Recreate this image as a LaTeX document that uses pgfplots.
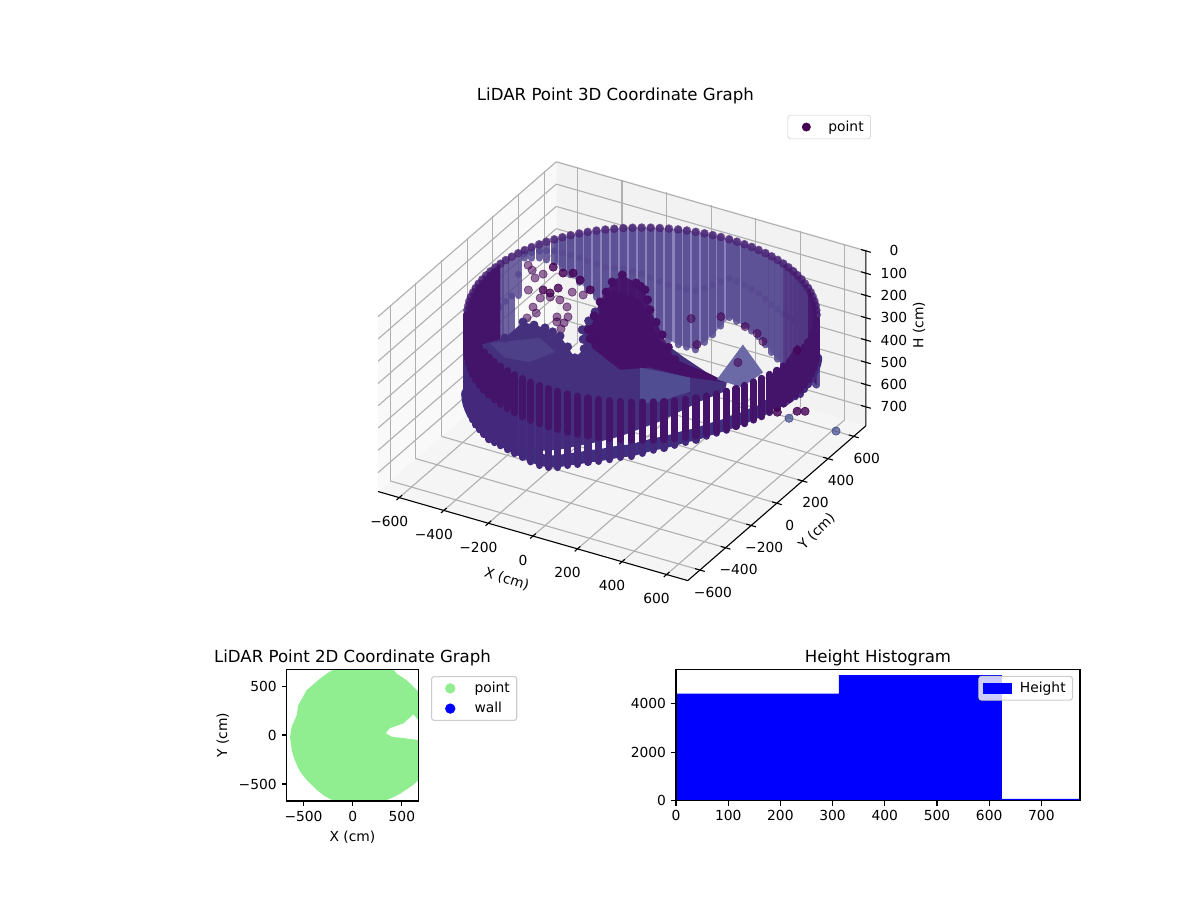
\documentclass[border=0pt]{standalone}
\usepackage{fontspec}
\setmainfont{DejaVu Sans}
\usepackage{pgfplots}
\usepackage{pgfplotstable}
\pgfplotsset{compat=1.18}
\definecolor{gridc}{HTML}{B0B0B0}
\definecolor{legc}{HTML}{CCCCCC}
\definecolor{lgreen}{HTML}{90EE90}
\definecolor{vird}{HTML}{440154}
\definecolor{backc}{HTML}{574A91}
\definecolor{backl}{HTML}{8A82B8}
\definecolor{rimc}{HTML}{44136A}
\definecolor{floorc}{HTML}{45307E}
\definecolor{blobc}{HTML}{450F67}
\definecolor{barc}{HTML}{43287B}
\definecolor{basec}{HTML}{3F2F80}
\definecolor{patchc}{HTML}{514D93}
\definecolor{patchl}{HTML}{4D3F88}
\definecolor{patchd}{HTML}{6B6AA6}
\definecolor{strayb}{HTML}{3F4A8A}
\pgfplotstableread{
x y t m e
656 379 140 297 157
637 409 140 308 168
617 439 140 317 177
595 467 140 323 183
572 494 140 326 186
548 520 140 328 188
522 544 140 328 188
495 567 140 340 200
467 589 140 354 214
437 609 140 358 218
407 628 140 361 221
376 645 140 364 224
344 660 140 367 227
311 674 140 363 223
277 686 140 356 216
243 696 140 346 206
208 704 140 335 195
173 711 140 329 189
138 715 140 323 183
103 718 140 319 179
67 719 140 316 176
31 718 140 340 200
-4 715 140 364 224
-39 711 140 385 245
-74 704 140 405 265
-109 696 140 402 262
-143 686 140 399 259
-177 674 140 390 250
-210 660 140 380 240
-242 645 140 364 224
-273 628 140 347 207
-303 609 140 335 195
-333 589 140 323 183
-361 567 140 316 176
-388 544 140 309 169
-414 520 140 290 150
-438 494 140 270 130
-461 467 140 250 110
-483 439 140 229 89
-503 409 140 210 70
-522 379 140 191 51
-539 348 140 181 41
-554 316 140 171 31
-568 283 140 165 25
-580 249 140 158 18
-590 215 140 235 95
-598 180 140 316 176
-605 145 140 325 185
-609 110 140 333 193
-612 75 140 348 208
-613 39 140 361 221
-612 3 140 363 223
-609 -32 140 365 225
-605 -67 140 361 221
-598 -102 140 357 217
-590 -137 140 353 213
-580 -171 140 348 208
-568 -205 140 344 204
-554 -238 140 339 199
-539 -270 140 335 195
-522 -301 140 330 190
}\backwall
\pgfplotstableread{
x y t m e c
-522 -301 140 330 190 493
-499 -337 140 329 189 491
-475 -372 140 328 188 488
-448 -405 140 326 187 486
-419 -437 140 326 186 485
-388 -466 140 326 186 484
-355 -494 140 325 185 483
-321 -519 140 324 185 482
-285 -543 140 325 185 483
-248 -564 140 321 181 475
-210 -582 140 318 178 468
-170 -598 140 317 177 467
-130 -612 140 316 177 466
-88 -623 140 316 177 466
-46 -632 140 318 178 468
-4 -637 140 319 179 471
39 -640 140 316 177 466
80 -641 140 310 171 454
124 -639 140 300 160 433
166 -634 140 293 153 419
208 -626 140 284 145 402
250 -616 140 278 139 390
291 -603 140 272 132 376
330 -588 140 265 125 363
369 -570 140 262 122 357
407 -550 140 254 115 342
443 -527 140 248 108 330
478 -503 140 245 105 323
511 -476 140 240 100 314
543 -447 140 236 96 305
572 -416 140 235 95 303
600 -383 140 230 90 294
625 -349 140 228 88 290
649 -313 140 227 87 288
670 -276 140 224 84 282
688 -238 140 225 85 283
704 -198 140 223 83 280
718 -158 140 225 85 283
729 -116 140 220 80 274
738 -74 140 218 78 270
743 -32 140 219 79 271
746 11 140 224 84 282
747 53 140 229 89 291
745 96 140 235 95 303
740 138 140 235 95 304
732 180 140 236 96 305
722 222 140 236 96 306
709 263 140 237 97 308
694 302 140 238 98 309
676 341 140 239 99 312
}\frontwall
\pgfplotstableread{
x y z
-648 394 300
-615 368 300
-563 363 300
-575 321 300
-551 227 300
-480 196 300
-450 222 300
-406 221 300
-469 121 300
-435 87 300
-355 188 300
-350 101 300
-313 123 300
-331 67 300
-303 75 300
-290 28 300
-447 36 300
-395 298 300
-347 300 300
109 350 300
202 421 300
229 186 300
437 145 300
589 342 300
322 401 300
389 378 300
440 335 300
}\strayA
\pgfplotstableread{
x y z
-556 430 300
-500 409 300
-466 428 300
-501 256 300
-466 249 300
-458 298 300
-415 395 300
-343 348 300
507 547 700
480 532 700
417 487 700
}\strayB
\pgfplotstableread{
x y z
480 469 700
688 474 700
}\strayC
\pgfplotstableread{
x y z
-195 75 300
-263 286 300
-300 444 300
-293 511 300
-215 484 300
-158 455 300
-64 330 300
74 185 300
213 42 300
-229 180 300
-281 365 300
-187 470 300
-111 393 300
5 258 300
143 113 300
-154 18 300
}\blobedge
\pgfplotstableread{
x y z
-444 -142 300
-445 1 300
-348 4 300
-266 -21 300
-131 -140 300
-135 -61 300
-215 63 300
-241 209 300
-396 2 300
-307 -8 300
-198 -80 300
-175 1 300
-228 136 300
}\flooredge
\begin{document}
\begin{tikzpicture}
\path (0,0) rectangle (12in,9in);
\begin{axis}[
  at={(6.22in,6.162in)}, anchor=origin,
  x={(0.00223in,-0.000647in)}, y={(0.00128in,0.001115in)}, z={(0in,0.002235in)},
  z dir=reverse,
  xmin=-695,xmax=695,ymin=-695,ymax=695,zmin=-5,zmax=785,
  clip=false, set layers,
  axis lines=box,
  axis line style={draw=none},
  grid=major, grid style={color=gridc,line width=.8pt},
  xtick={-600,-400,-200,0,200,400,600},
  ytick={-600,-400,-200,0,200,400,600},
  ztick={0,100,200,300,400,500,600,700},
  xticklabels={−600,−400,−200,0,200,400,600},
  yticklabels={−600,−400,−200,0,200,400,600},
  zticklabels={0,100,200,300,400,500,600,700},
  tick style={draw=none},
  major tick length=0pt,
  zticklabel pos=upper,
  xticklabel style={anchor=center,xshift=-.1in,yshift=-.24in},
  yticklabel style={anchor=center,xshift=.13in,yshift=-.22in},
  zticklabel style={anchor=center,xshift=.28in},
  title={LiDAR Point 3D Coordinate Graph},
  title style={font=\fontsize{12}{14}\selectfont,at={(axis cs:-713,1188,-5)},anchor=center},
  xlabel={X (cm)},
  xlabel style={at={(axis cs:79,-1036,785)},anchor=center,rotate=-18},
  ylabel={Y (cm)},
  ylabel style={at={(axis cs:941,-115,785)},anchor=center,rotate=-45},
  zlabel={H (cm)},
  zlabel style={at={(axis cs:825,883,390)},anchor=center,rotate=0},
  legend style={at={(axis cs:95,1452,-5)},anchor=center,draw=legc,rounded corners=2pt,fill=white,font=\normalsize,cells={anchor=west}},
]
% panes
\addplot3[forget plot,on layer=axis background,fill=black!2.5,draw=none] coordinates {(-695,-695,-5)(-695,695,-5)(-695,695,785)(-695,-695,785)};
\addplot3[forget plot,on layer=axis background,fill=black!5,draw=none] coordinates {(-695,695,-5)(695,695,-5)(695,695,785)(-695,695,785)};
\addplot3[forget plot,on layer=axis background,fill=black!3.75,draw=none] coordinates {(-695,-695,785)(695,-695,785)(695,695,785)(-695,695,785)};
% axis edges and tick marks
\addplot3[forget plot,black,line width=.8pt] coordinates {(-695,-695,785)(695,-695,785)(695,695,785)(695,695,-5)};
\addplot3[forget plot,draw=none,mark=none,error bars/.cd,y dir=both,y fixed=22,error mark=none,error bar style={black,line width=.8pt}] coordinates {(-600,-695,785)(-400,-695,785)(-200,-695,785)(0,-695,785)(200,-695,785)(400,-695,785)(600,-695,785)};
\addplot3[forget plot,draw=none,mark=none,error bars/.cd,x dir=both,x fixed=22,error mark=none,error bar style={black,line width=.8pt}] coordinates {(695,-600,785)(695,-400,785)(695,-200,785)(695,0,785)(695,200,785)(695,400,785)(695,600,785)};
\addplot3[forget plot,draw=none,mark=none,error bars/.cd,x dir=both,x fixed=22,error mark=none,error bar style={black,line width=.8pt}] coordinates {(695,695,0)(695,695,100)(695,695,200)(695,695,300)(695,695,400)(695,695,500)(695,695,600)(695,695,700)};
% back wall
\addplot3[forget plot,fill=backl,draw=none] coordinates {(67,719,140)(-4,715,140)(-74,704,140)(-143,686,140)(-210,660,140)(-273,628,140)(-333,589,140)(-388,544,140)(-438,494,140)(-483,439,140)(-522,379,140)(-522,379,242)(-483,439,318)(-438,494,400)(-388,544,478)(-333,589,506)(-273,628,554)(-210,660,619)(-143,686,657)(-74,704,669)(-4,715,587)(67,719,492)};
\addplot3[forget plot,fill=backl,draw=none] coordinates {(656,379,140)(617,439,140)(572,494,140)(522,544,140)(467,589,140)(407,628,140)(344,660,140)(277,686,140)(208,704,140)(138,715,140)(67,719,140)(67,719,492)(138,715,506)(208,704,529)(277,686,572)(344,660,594)(407,628,581)(467,589,568)(522,544,516)(572,494,512)(617,439,494)(656,379,453)};
\addplot3[forget plot,draw=none,mark=none,error bars/.cd,z dir=both,z explicit,error mark=none,
  error bar style={line width=.07in,line cap=round,color=backc,opacity=.85}] table[x=x,y=y,z=m,z error=e]{\backwall};
\addplot3[forget plot,only marks,mark=*,mark size=2.9pt,mark options={fill=rimc,draw=rimc,opacity=.55}] table[x=x,y=y,z=t]{\backwall};
% solid side walls
\addplot3[forget plot,fill=rimc,draw=none,opacity=.35] coordinates {(522,544,140)(495,567,140)(467,589,140)(437,609,140)(407,628,140)(376,645,140)(344,660,140)(344,660,594)(376,645,588)(407,628,581)(437,609,575)(467,589,568)(495,567,540)(522,544,516)};
\addplot3[forget plot,fill=rimc,draw=none,opacity=.85] coordinates {(656,379,140)(637,409,140)(617,439,140)(595,467,140)(572,494,140)(548,520,140)(522,544,140)(522,544,516)(548,520,515)(572,494,512)(595,467,505)(617,439,494)(637,409,475)(656,379,453)};
\addplot3[forget plot,fill=rimc,draw=none] coordinates {(-609,110,140)(-613,39,140)(-609,-32,140)(-598,-102,140)(-580,-171,140)(-554,-238,140)(-522,-301,140)(-522,-301,520)(-554,-238,538)(-580,-171,556)(-598,-102,573)(-609,-32,590)(-613,39,581)(-609,110,526)};
\addplot3[forget plot,fill=rimc,draw=none,opacity=.85] coordinates {(566,382,300)(688,318,300)(778,82,300)(769,-66,300)(705,-31,300)(618,143,300)};
% stray points
\addplot3[forget plot,only marks,mark=*,mark size=3pt,mark options={fill=vird,draw=vird,fill opacity=.55,draw opacity=.7}] table{\strayA};
\addplot3[forget plot,only marks,mark=*,mark size=3pt,mark options={fill=vird,draw=vird,fill opacity=.8}] table{\strayB};
\addplot3[forget plot,only marks,mark=*,mark size=3pt,mark options={fill=strayb,draw=strayb,fill opacity=.7}] table{\strayC};
% floor
\addplot3[forget plot,fill=floorc,draw=none] coordinates {(-501,-238,300)(-444,-142,300)(-445,1,300)(-348,4,300)(-266,-21,300)(-131,-140,300)(-135,-61,300)(-215,63,300)(-241,209,300)(-269,390,300)(-136,378,300)(86,147,300)(229,78,300)(371,17,300)(477,-11,300)(505,-75,300)(460,-192,300)(403,-404,300)(326,-583,300)(278,-656,300)(174,-788,300)(80,-860,300)(-67,-838,300)(-177,-723,300)};
\addplot3[forget plot,only marks,mark=*,mark size=3pt,mark options={fill=floorc,draw=floorc}] table{\flooredge};
\addplot3[forget plot,fill=patchl,draw=none] coordinates {(-475,-205,300)(-326,-73,300)(-221,-138,300)(-267,-255,300)(-367,-276,300)};
\addplot3[forget plot,fill=blobc,draw=none,opacity=.92] coordinates {(-112,-39,300)(-195,75,300)(-263,286,300)(-300,444,300)(-293,511,300)(-215,484,300)(-158,455,300)(-64,330,300)(74,185,300)(213,42,300)(371,17,300)(477,-11,300)(334,-50,300)(160,-60,300)(67,-133,300)};
\addplot3[forget plot,only marks,mark=*,mark size=3pt,mark options={fill=blobc,draw=blobc}] table{\blobedge};
\addplot3[forget plot,fill=patchc,draw=none] coordinates {(127,-80,300)(334,-50,300)(388,-144,300)(325,-270,300)(266,-322,300)};
\addplot3[forget plot,fill=patchd,draw=none] coordinates {(384,276,300)(560,127,300)(547,-15,300)(432,-10,300)};
% front wall
\addplot3[forget plot,line width=.12in,color=basec,line cap=round,line join=round] table[x=x,y=y,z=c]{\frontwall};
\addplot3[forget plot,draw=none,mark=none,error bars/.cd,z dir=both,z explicit,error mark=none,
  error bar style={line width=.073in,line cap=round,color=barc}] table[x=x,y=y,z=m,z error=e]{\frontwall};
\addplot3[forget plot,draw=none,mark=none,error bars/.cd,z dir=plus,z fixed=170,error mark=none,
  error bar style={line width=.073in,line cap=round,color=rimc}] table[x=x,y=y,z=t]{\frontwall};
\addlegendimage{legend image code/.code={\path (0in,0in) (0.33in,0in); \fill[vird] (0.14in,0in) circle (3pt);}}
\addlegendentry{point}
\end{axis}
\begin{axis}[
  at={(2.867in,0.99in)}, anchor=south west, scale only axis,
  width=1.316in, height=1.317in,
  xmin=-671,xmax=667,ymin=-673,ymax=671,
  line width=.8pt, tick style={black,line width=.8pt}, tick align=outside,
  major tick length=3.5pt, xtick pos=bottom, ytick pos=left,
  xtick={-500,0,500}, ytick={-500,0,500},
  xticklabels={−500,0,500}, yticklabels={−500,0,500},
  xlabel={X (cm)}, ylabel={Y (cm)},
  title={LiDAR Point 2D Coordinate Graph},
  title style={font=\fontsize{12}{14}\selectfont,yshift=-.1in},
  axis on top,
  legend style={at={(axis description cs:1.0965,.949)},anchor=north west,draw=legc,rounded corners=2pt,fill=white,font=\normalsize,cells={anchor=west},row sep=1.5pt},
]
\addplot[forget plot,fill=lgreen,draw=none] coordinates {(-197,668)(414,668)(447,627)(549,559)(610,500)(668,441)(668,153)(617,210)(515,119)(373,68)(336,17)(397,-17)(481,-27)(668,-51)(668,-458)(617,-508)(481,-600)(400,-640)(329,-671)(-197,-671)(-290,-620)(-366,-559)(-468,-458)(-515,-400)(-553,-339)(-595,-240)(-620,-153)(-637,-17)(-620,85)(-569,203)(-553,305)(-468,458)(-332,576)(-260,630)};
\addlegendimage{legend image code/.code={\path (0in,0in) (0.35in,0in); \fill[lgreen] (0.14in,0in) circle (3.3pt);}}
\addlegendentry{point}
\addlegendimage{legend image code/.code={\path (0in,0in) (0.35in,0in); \fill[blue] (0.14in,0in) circle (3.3pt);}}
\addlegendentry{wall}
\end{axis}
\begin{axis}[
  at={(6.76in,0.993in)}, anchor=south west, scale only axis,
  width=4.04in, height=1.314in,
  xmin=0,xmax=774,ymin=0,ymax=5430,
  line width=.8pt, tick style={black,line width=.8pt}, tick align=outside,
  major tick length=3.5pt, xtick pos=bottom, ytick pos=left,
  xtick={0,100,200,300,400,500,600,700}, ytick={0,2000,4000},
  scaled ticks=false,
  xticklabels={0,100,200,300,400,500,600,700}, yticklabels={0,2000,4000},
  title={Height Histogram},
  title style={font=\fontsize{12}{14}\selectfont,yshift=-.1in},
  axis on top,
  legend style={at={(axis description cs:.983,.95)},anchor=north east,draw=legc,rounded corners=2pt,fill=white,fill opacity=.8,text opacity=1,font=\normalsize,cells={anchor=west}},
]
\addplot[forget plot,ybar interval,fill=blue,draw=none] coordinates {(0,4420)(312,5190)(624.5,80)(774,80)};
\addlegendimage{legend image code/.code={\path (0in,0in) (0.33in,0in); \fill[blue,sharp corners,fill opacity=1] (0in,-0.05in) rectangle (0.28in,0.05in);}}
\addlegendentry{Height}
\end{axis}
\end{tikzpicture}
\end{document}
